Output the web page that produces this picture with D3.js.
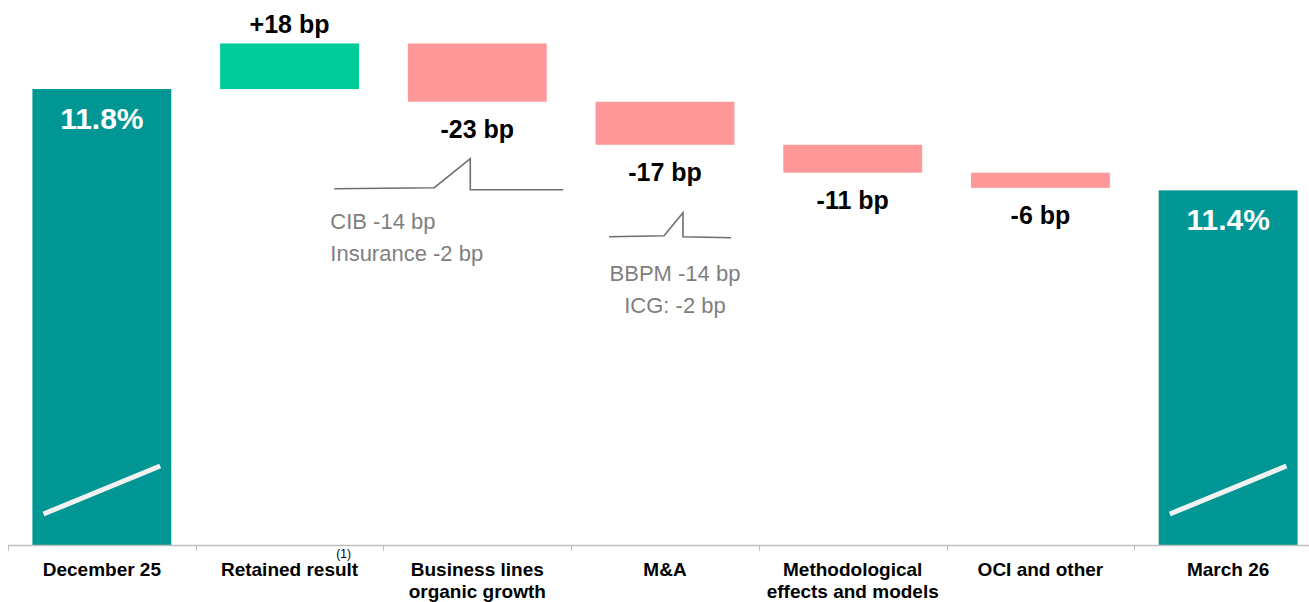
<!DOCTYPE html>
<html>
<head>
<meta charset="utf-8">
<script src="https://cdn.jsdelivr.net/npm/d3@7/dist/d3.min.js"></script>
<style>
  html, body { margin: 0; padding: 0; background: #fff; }
  svg { display: block; font-family: "Liberation Sans", Arial, sans-serif; }
</style>
</head>
<body>
<svg id="chart" width="1309" height="602"></svg>
<script>
// ---- data ----
const categories = ["December 25", "Retained result", "Business lines organic growth", "M&A", "Methodological effects and models", "OCI and other", "March 26"];
const categoryLines = [["December 25"], ["Retained result"], ["Business lines", "organic growth"], ["M&A"], ["Methodological", "effects and models"], ["OCI and other"], ["March 26"]];
const startValue = 11.8;   // % CET1
const endValue = 11.4;     // %
const deltasBp = [18, -23, -17, -11, -6]; // basis points
const totalLabels = ["11.8%", "11.4%"];
const deltaLabels = ["+18 bp", "-23 bp", "-17 bp", "-11 bp", "-6 bp"];
const breakdownGrowth = ["CIB -14 bp", "Insurance -2 bp"];
const breakdownMA = ["BBPM -14 bp", "ICG: -2 bp"];
const axisFloor = 10.0; // broken axis starts here

// ---- layout ----
const svg = d3.select("#chart");
const baseY = 545;
const x = d3.scaleBand().domain(categories).range([8, 1322]).paddingInner(0.26).paddingOuter(0.13);
const y = d3.scaleLinear().domain([axisFloor, 12.0]).range([baseY, baseY - 2 * 253.3]);

const colors = { total: "#009694", up: "#00CC99", down: "#FF9999" };

// build waterfall rows
const rows = [];
rows.push({ cat: categories[0], y0: axisFloor, y1: startValue, type: "total", label: totalLabels[0] });
let run = startValue;
deltasBp.forEach((d, i) => {
  const next = run + d / 100;
  rows.push({ cat: categories[i + 1], y0: Math.min(run, next), y1: Math.max(run, next), type: d >= 0 ? "up" : "down", label: deltaLabels[i], delta: d });
  run = next;
});
rows.push({ cat: categories[6], y0: axisFloor, y1: endValue, type: "total", label: totalLabels[1] });

// bars
svg.selectAll("rect.bar").data(rows).join("rect")
  .attr("class", "bar")
  .attr("x", d => x(d.cat))
  .attr("width", x.bandwidth())
  .attr("y", d => y(d.y1))
  .attr("height", d => y(d.y0) - y(d.y1))
  .attr("fill", d => colors[d.type]);

// axis break slashes on total bars
rows.filter(d => d.type === "total").forEach(d => {
  const x0 = x(d.cat), w = x.bandwidth();
  svg.append("line")
    .attr("x1", x0 + w * 0.08).attr("y1", baseY - 31)
    .attr("x2", x0 + w * 0.92).attr("y2", baseY - 79)
    .attr("stroke", "#f2f2f2").attr("stroke-width", 5);
});

// axis line + ticks
svg.append("line").attr("x1", 8).attr("x2", 1309).attr("y1", baseY + 0.5).attr("y2", baseY + 0.5)
  .attr("stroke", "#bfbfbf").attr("stroke-width", 1.5);
const step = x.step();
d3.range(categories.length).forEach(i => {
  const tx = Math.round(8 + i * step) + 0.5;
  svg.append("line").attr("x1", tx).attr("x2", tx).attr("y1", baseY).attr("y2", baseY + 6)
    .attr("stroke", "#bfbfbf").attr("stroke-width", 1);
});

// category labels
categories.forEach((c, i) => {
  const cx = x(c) + x.bandwidth() / 2;
  const t = svg.append("text").attr("x", cx).attr("y", 576)
    .attr("text-anchor", "middle").attr("font-size", 19).attr("font-weight", "bold").attr("fill", "#000");
  categoryLines[i].forEach((ln, j) => {
    t.append("tspan").attr("x", cx).attr("dy", j === 0 ? 0 : 22).text(ln);
  });
});
// footnote marker (1)
svg.append("text").attr("x", x(categories[1]) + x.bandwidth() / 2 + 54).attr("y", 558)
  .attr("text-anchor", "middle").attr("font-size", 12).attr("fill", "#000").text("(1)");

// value labels
rows.forEach(d => {
  const cx = x(d.cat) + x.bandwidth() / 2;
  if (d.type === "total") {
    svg.append("text").attr("x", cx).attr("y", y(d.y1) + 40)
      .attr("text-anchor", "middle").attr("font-size", 30).attr("font-weight", "bold").attr("fill", "#fff").text(d.label);
  } else if (d.type === "up") {
    svg.append("text").attr("x", cx).attr("y", y(d.y1) - 10)
      .attr("text-anchor", "middle").attr("font-size", 25).attr("font-weight", "bold").attr("fill", "#000").text(d.label);
  } else {
    svg.append("text").attr("x", cx).attr("y", y(d.y0) + 36)
      .attr("text-anchor", "middle").attr("font-size", 25).attr("font-weight", "bold").attr("fill", "#000").text(d.label);
  }
});

// breakdown callouts
const gray = "#7f7f7f";
function callout(row, pts, lines, tx, ty, anchor) {
  const cx = x(row.cat) + x.bandwidth() / 2;
  const by = y(row.y0);
  svg.append("path")
    .attr("d", d3.line()(pts.map(p => [cx + p[0], by + p[1]])))
    .attr("fill", "none").attr("stroke", "#6f6f6f").attr("stroke-width", 1.6);
  lines.forEach((ln, j) => {
    svg.append("text").attr("x", cx + tx).attr("y", by + ty + j * 32)
      .attr("text-anchor", anchor).attr("font-size", 22).attr("fill", gray).text(ln);
  });
}
callout(rows[2], [[-143, 87], [-43, 86], [-7, 57], [-7, 88], [86, 88]], breakdownGrowth, -147, 127, "start");
callout(rows[3], [[-56, 92], [-1, 91], [18, 68], [18, 92], [66, 93]], breakdownMA, 10, 136, "middle");
</script>
</body>
</html>
